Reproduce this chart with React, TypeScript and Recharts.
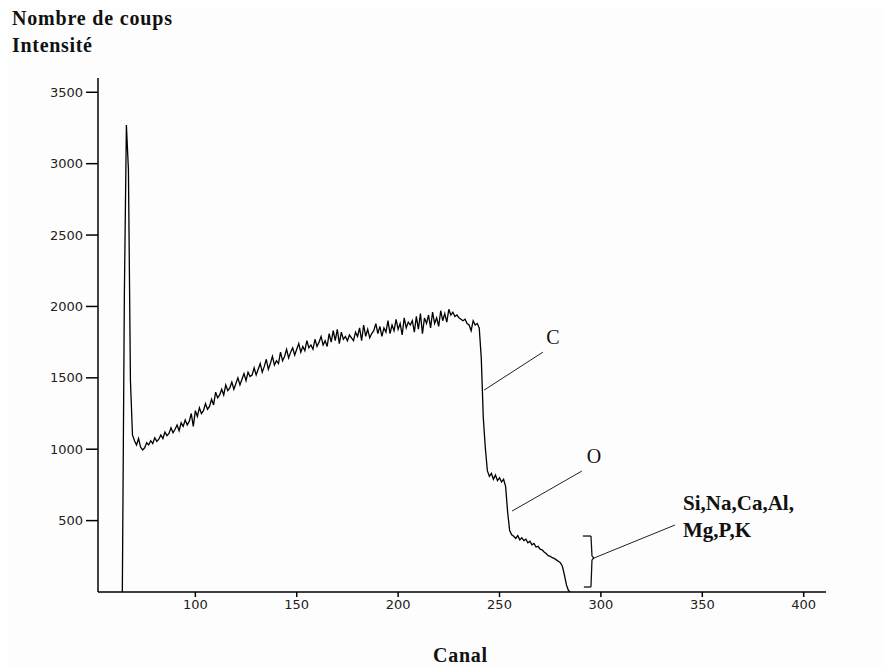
import React from 'react';
import { LineChart, Line, XAxis, YAxis, ReferenceLine, ReferenceDot } from 'recharts';

// spectre RBS : nombre de coups par canal, à partir du canal 64
const firstChannel = 64;
const counts = [
  0, 2080, 3270, 2960, 1480, 1100,
  1060, 1030, 1075, 1015, 995, 1010, 1045, 1030, 1060, 1040,
  1080, 1055, 1070, 1100, 1075, 1120, 1095, 1110, 1150, 1115,
  1140, 1170, 1130, 1185, 1160, 1205, 1170, 1195, 1250, 1160,
  1270, 1230, 1290, 1250, 1270, 1320, 1280, 1300, 1350, 1310,
  1400, 1360, 1380, 1420, 1380, 1450, 1410, 1430, 1470, 1420,
  1460, 1500, 1450, 1490, 1530, 1480, 1540, 1510, 1520, 1570,
  1520, 1560, 1600, 1540, 1580, 1630, 1560, 1600, 1650, 1590,
  1620, 1600, 1680, 1620, 1650, 1700, 1640, 1680, 1710, 1660,
  1700, 1740, 1680, 1720, 1690, 1760, 1710, 1730, 1700, 1770,
  1720, 1750, 1790, 1730, 1760, 1720, 1810, 1750, 1830, 1760,
  1840, 1740, 1820, 1770, 1790, 1760, 1800, 1780, 1760, 1820,
  1790, 1850, 1760, 1870, 1790, 1840, 1780, 1810, 1830, 1880,
  1810, 1860, 1790, 1850, 1820, 1900, 1810, 1870, 1830, 1910,
  1840, 1880, 1800, 1920, 1850, 1890, 1870, 1900, 1820, 1930,
  1840, 1950, 1810, 1920, 1880, 1940, 1850, 1960, 1880, 1920,
  1860, 1970, 1900, 1950, 1890, 1980, 1940, 1960, 1930, 1940,
  1920, 1910, 1900, 1910, 1880, 1870, 1830, 1900, 1870, 1880,
  1850, 1640, 1220, 1010, 850, 810, 830, 790, 820, 780,
  800, 770, 790, 740, 560, 430, 400, 390, 375, 395,
  365, 380, 360, 370, 345, 355, 330, 340, 315, 320,
  300, 295, 280, 270, 255, 250, 240, 235, 225, 215,
  205, 180, 120, 50, 10, 0,
];

const xTicks = [100, 150, 200, 250, 300, 350, 400];
const yTicks = [500, 1000, 1500, 2000, 2500, 3000, 3500];

// traits de repère des annotations (canal, coups)
const leaderC = [{ x: 242.4, y: 1414 }, { x: 271.4, y: 1680 }];
const leaderO = [{ x: 256.2, y: 567 }, { x: 290.6, y: 847 }];
const leaderRest = [{ x: 296.6, y: 238 }, { x: 336.5, y: 469 }];
const brace = [
  { x: 291.1, y: 392 }, { x: 295.1, y: 392 }, { x: 295.6, y: 250 },
  { x: 296.6, y: 238 }, { x: 295.6, y: 226 }, { x: 295.1, y: 35 }, { x: 291.6, y: 35 },
];

const data = counts.map((c, i) => ({ ch: firstChannel + i, coups: c }));

const serif = '"Liberation Serif", "DejaVu Serif", serif';

function Tag({ cx, cy, lines, bold, size }: any) {
  return (
    <text x={cx} y={cy} fontFamily={serif} fontSize={size} fontWeight={bold ? 'bold' : 'normal'} fill="#111">
      {lines.map((l: string, i: number) => (
        <tspan key={i} x={cx} dy={i === 0 ? 0 : 27}>{l}</tspan>
      ))}
    </text>
  );
}

export default function App() {
  return (
    <div style={{ position: 'relative', width: 875, height: 659, background: '#fdfdfd' }}>
      <LineChart width={875} height={651} data={data} margin={{ top: 70, right: 57, bottom: 37, left: 0 }}>
        <XAxis
          dataKey="ch"
          type="number"
          domain={[52, 411]}
          ticks={xTicks}
          allowDataOverflow
          tickSize={5}
          tickMargin={3}
          height={30}
          stroke="#000"
          strokeWidth={1.5}
          tick={{ fill: '#222', fontSize: 13, fontFamily: '"DejaVu Sans", sans-serif' }}
        />
        <YAxis
          type="number"
          domain={[0, 3600]}
          ticks={yTicks}
          allowDataOverflow
          width={90}
          tickSize={12}
          tickMargin={3}
          stroke="#000"
          strokeWidth={1.5}
          tick={{ fill: '#222', fontSize: 13, fontFamily: '"DejaVu Sans", sans-serif' }}
        />
        <Line
          dataKey="coups"
          type="linear"
          stroke="#000"
          strokeWidth={1.3}
          dot={false}
          isAnimationActive={false}
        />
        <ReferenceLine segment={leaderC} stroke="#222" strokeWidth={1} ifOverflow="visible" />
        <ReferenceLine segment={leaderO} stroke="#222" strokeWidth={1} ifOverflow="visible" />
        <ReferenceLine segment={leaderRest} stroke="#222" strokeWidth={1} ifOverflow="visible" />
        {brace.slice(1).map((p, i) => (
          <ReferenceLine key={i} segment={[brace[i], p]} stroke="#111" strokeWidth={1.3} ifOverflow="visible" />
        ))}
        <ReferenceDot x={273} y={1740} r={1} ifOverflow="visible" shape={(p: any) => <Tag cx={p.cx} cy={p.cy} lines={['C']} size={20} />} />
        <ReferenceDot x={293} y={903} r={1} ifOverflow="visible" shape={(p: any) => <Tag cx={p.cx} cy={p.cy} lines={['O']} size={20} />} />
        <ReferenceDot
          x={340.5}
          y={574}
          r={1}
          ifOverflow="visible"
          shape={(p: any) => <Tag cx={p.cx} cy={p.cy} lines={['Si,Na,Ca,Al,', 'Mg,P,K']} bold size={21} />}
        />
      </LineChart>
      <svg width={875} height={659} style={{ position: 'absolute', left: 0, top: 0, pointerEvents: 'none' }}>
        <text x={4} y={17} fontFamily={serif} fontWeight="bold" fontSize={20} textLength={160} fill="#111">Nombre de coups</text>
        <text x={4} y={44} fontFamily={serif} fontWeight="bold" fontSize={20} textLength={80} fill="#111">Intensité</text>
        <text x={425} y={654} fontFamily={serif} fontWeight="bold" fontSize={20} textLength={54} fill="#111">Canal</text>
      </svg>
    </div>
  );
}
